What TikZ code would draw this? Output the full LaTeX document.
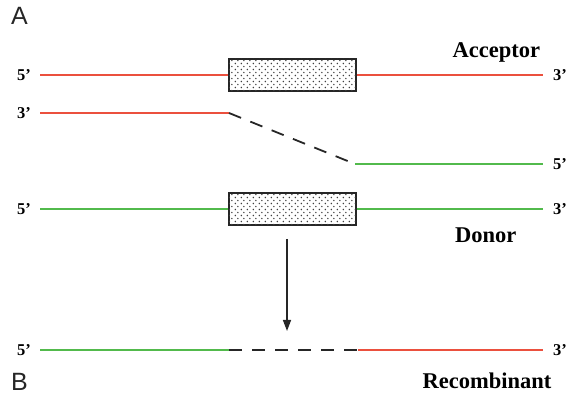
\documentclass[tikz,border=0pt]{standalone}
\usepackage{fontspec}
\setmainfont{Liberation Serif}
\newfontfamily\panelfont{Liberation Sans}
\usetikzlibrary{patterns,arrows.meta}
\definecolor{myred}{RGB}{235,80,62}
\definecolor{mygreen}{RGB}{82,186,76}
\pgfdeclarepatternformonly{boxdots}{\pgfpointorigin}{\pgfpoint{6pt}{6.4pt}}{\pgfpoint{6pt}{6.4pt}}{%
  \pgfpathcircle{\pgfpoint{1.5pt}{1.6pt}}{0.9pt}%
  \pgfpathcircle{\pgfpoint{4.5pt}{4.8pt}}{0.9pt}%
  \pgfusepath{fill}}
\begin{document}
\begin{tikzpicture}[x=1pt,y=-1pt,
  redl/.style={draw=myred, line width=1.8pt},
  greenl/.style={draw=mygreen, line width=1.8pt},
  blkdash/.style={draw=black!85, line width=1.8pt, dash pattern=on 13pt off 10pt},
  cbox/.style={draw=black!85, line width=2pt, fill=white, postaction={pattern=boxdots, pattern color=black!75}, minimum width=127pt, minimum height=32.5pt, inner sep=0pt},
  endlab/.style={font=\bfseries\fontsize{16.5}{16.5}\selectfont, inner sep=0pt},
  title/.style={font=\bfseries\fontsize{22.5}{22.5}\selectfont, inner sep=0pt, anchor=base west},
  panel/.style={font=\panelfont\fontsize{25}{25}\selectfont, inner sep=0pt, anchor=base west, text=black!85}]
\useasboundingbox (0,0) rectangle (568,395);

% panel letters
\node[panel] (pA) at (11,25) {A};
\node[panel] (pB) at (11,391) {B};

% titles
\node[title] (tacc) at (452.5,58) {Acceptor};
\node[title] (tdon) at (455,242.5) {Donor};
\node[title] (trec) at (422.5,389) {Recombinant};

% boxes
\node[cbox] (box1) at (292,75) {};
\node[cbox] (box2) at (292,209) {};

% row 1 (acceptor top strand)
\coordinate (r1l) at (40,75);
\coordinate (r1r) at (543,75);
\node[endlab, anchor=east] (r1a) at (31,75) {5’};
\node[endlab, anchor=west] (r1b) at (553,75) {3’};
\draw[redl] (r1l) -- (box1.west);
\draw[redl] (box1.east) -- (r1r);

% row 2
\coordinate (r2l) at (40,113);
\coordinate (r2m) at (229,113);
\coordinate (r2n) at (355,164);
\coordinate (r2r) at (543,164);
\node[endlab, anchor=east] (r2a) at (31,113) {3’};
\node[endlab, anchor=west] (r2b) at (553,164) {5’};
\draw[redl] (r2l) -- (r2m);
\draw[blkdash] (r2m) -- (r2n);
\draw[greenl] (r2n) -- (r2r);

% row 3 (donor)
\coordinate (r3l) at (40,209);
\coordinate (r3r) at (543,209);
\node[endlab, anchor=east] (r3a) at (31,209) {5’};
\node[endlab, anchor=west] (r3b) at (553,209) {3’};
\draw[greenl] (r3l) -- (box2.west);
\draw[greenl] (box2.east) -- (r3r);

% arrow
\coordinate (arS) at (287,239);
\coordinate (arE) at (287,331);
\draw[line width=1.4pt, black!85, -{Stealth[length=11pt,width=8pt,inset=0pt]}] (arS) -- (arE);

% row 4 (recombinant)
\coordinate (r4l) at (40,350);
\coordinate (r4m) at (229,350);
\coordinate (r4n) at (358,350);
\coordinate (r4r) at (543,350);
\node[endlab, anchor=east] (r4a) at (31,350) {5’};
\node[endlab, anchor=west] (r4b) at (553,350) {3’};
\draw[greenl] (r4l) -- (r4m);
\draw[blkdash] (r4m) -- (r4n);
\draw[redl] (r4n) -- (r4r);
\end{tikzpicture}
\end{document}
